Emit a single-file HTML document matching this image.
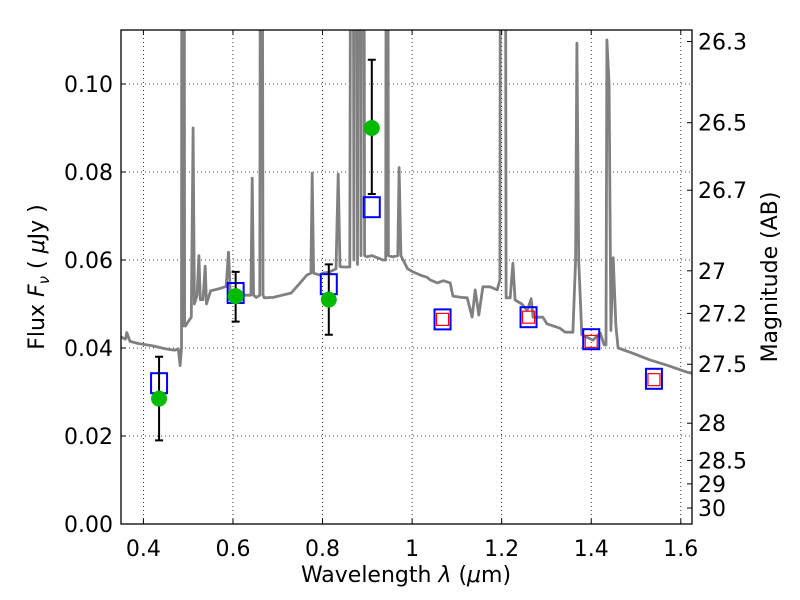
<!DOCTYPE html>
<html><head><meta charset="utf-8">
<style>
body{margin:0;background:#fff}
svg{display:block;font-family:"DejaVu Sans","Liberation Sans",sans-serif}
</style></head>
<body>
<svg id="chart" width="800" height="600" viewBox="0 0 800 600" xmlns="http://www.w3.org/2000/svg">
<defs><clipPath id="clip"><rect x="121" y="30" width="571" height="494"/></clipPath></defs>
<rect x="0" y="0" width="800" height="600" fill="#fff"/>
<g id="grid"></g>
<g id="spec" clip-path="url(#clip)"></g>
<g id="marks"></g>
<rect x="121" y="30" width="571" height="494" fill="none" stroke="#000" stroke-width="1.3"/>
<g id="axes"></g>
<text x="406" y="582" font-size="22" text-anchor="middle">Wavelength  <tspan font-style="italic">λ</tspan> (<tspan font-style="italic">μ</tspan>m)</text>
<text transform="translate(44,277) rotate(-90)" font-size="22" text-anchor="middle">Flux  <tspan font-style="italic">F</tspan><tspan font-style="italic" font-size="15" dy="5">ν</tspan><tspan dy="-5">  ( </tspan><tspan font-style="italic">μ</tspan>Jy )</text>
<text transform="translate(777,277) rotate(-90)" font-size="22" text-anchor="middle">Magnitude (AB)</text>
</svg>
<script>
const xTicks=[0.4,0.6,0.8,1.0,1.2,1.4,1.6];
const xTickLabels=["0.4","0.6","0.8","1","1.2","1.4","1.6"];
const yTicks=[0,0.02,0.04,0.06,0.08,0.10];
const yTickLabels=["0.00","0.02","0.04","0.06","0.08","0.10"];
const magTicks=[26.3,26.5,26.7,27,27.2,27.5,28,28.5,29,30];
const magTickLabels=["26.3","26.5","26.7","27","27.2","27.5","28","28.5","29","30"];
const specWave=[0.35,0.36,0.363,0.37,0.39,0.42,0.45,0.47,0.478,0.482,0.485,0.4865,0.489,0.4905,0.492,0.494,0.500,0.507,0.511,0.514,0.52,0.524,0.527,0.533,0.538,0.541,0.55,0.57,0.585,0.590,0.594,0.61,0.63,0.640,0.643,0.646,0.652,0.660,0.663,0.667,0.67,0.69,0.71,0.73,0.75,0.765,0.774,0.777,0.780,0.794,0.80,0.815,0.83,0.835,0.839,0.846,0.861,0.866,0.870,0.874,0.878,0.882,0.886,0.890,0.894,0.899,0.91,0.935,0.941,0.944,0.947,0.957,0.968,0.971,0.975,0.980,0.99,1.002,1.02,1.033,1.04,1.056,1.07,1.085,1.091,1.11,1.123,1.134,1.141,1.149,1.158,1.174,1.190,1.196,1.199,1.206,1.210,1.219,1.225,1.230,1.245,1.257,1.266,1.270,1.292,1.301,1.330,1.342,1.359,1.365,1.368,1.372,1.379,1.404,1.42,1.429,1.433,1.435,1.440,1.444,1.449,1.455,1.460,1.493,1.531,1.569,1.614,1.625];
const specFlux=[0.0425,0.042,0.0435,0.0415,0.041,0.0405,0.0398,0.0395,0.0398,0.036,0.040,0.25,0.045,0.25,0.045,0.045,0.046,0.047,0.090,0.050,0.052,0.061,0.051,0.051,0.0586,0.050,0.053,0.0535,0.054,0.0618,0.0525,0.052,0.052,0.052,0.0786,0.052,0.0515,0.052,0.3,0.052,0.0514,0.0515,0.052,0.0525,0.0548,0.0566,0.057,0.0797,0.057,0.0566,0.057,0.0572,0.058,0.0795,0.0585,0.0584,0.0584,0.3,0.060,0.3,0.059,0.3,0.061,0.3,0.061,0.0607,0.061,0.060,0.060,0.3,0.061,0.0607,0.061,0.081,0.061,0.060,0.058,0.0573,0.0565,0.0561,0.0555,0.0548,0.0553,0.0548,0.0518,0.0515,0.0514,0.047,0.0532,0.0475,0.0539,0.0539,0.0532,0.0555,0.3,0.3,0.0514,0.0514,0.0593,0.0509,0.050,0.0486,0.0512,0.047,0.047,0.0455,0.0445,0.0436,0.0436,0.06,0.1093,0.06,0.043,0.0418,0.0434,0.0407,0.0407,0.110,0.10,0.044,0.0605,0.045,0.040,0.0388,0.0373,0.0361,0.0345,0.0343];
const obsWave=[0.435,0.606,0.814,0.91];
const obsFlux=[0.0285,0.0518,0.051,0.090];
const obsLo=[0.019,0.046,0.043,0.075];
const obsHi=[0.038,0.0573,0.059,0.1055];
const modWave=[0.435,0.606,0.814,0.91,1.068,1.26,1.40,1.54];
const modFlux=[0.032,0.0525,0.0545,0.072,0.0465,0.047,0.042,0.033];
const redWave=[1.068,1.26,1.40,1.54];
const redFlux=[0.0465,0.047,0.0415,0.0328];

const X0=121,X1=692,Y0=524,Y1=30,xmin=0.35,xmax=1.625,ymin=0,ymax=0.11227;
const sx=w=>X0+(w-xmin)/(xmax-xmin)*(X1-X0);
const sy=f=>Y0-(f-ymin)/(ymax-ymin)*(Y0-Y1);
const magToFlux=m=>Math.pow(10,(23.9-m)/2.5);
const NS="http://www.w3.org/2000/svg";
function mk(tag,attrs,parent){const e=document.createElementNS(NS,tag);for(const k in attrs)e.setAttribute(k,attrs[k]);parent.appendChild(e);return e;}
const grid=document.getElementById('grid'),axes=document.getElementById('axes'),spec=document.getElementById('spec'),marks=document.getElementById('marks');
xTicks.forEach((t,i)=>{const x=sx(t);
 let g=mk('line',{x1:x,x2:x,y1:Y1,y2:Y0,stroke:'#000','stroke-width':0.8,'stroke-dasharray':'1,3'},grid);
 
 
 mk('line',{x1:x,x2:x,y1:Y0,y2:Y0-5,stroke:'#000'},axes);
 mk('line',{x1:x,x2:x,y1:Y1,y2:Y1+5,stroke:'#000'},axes);
 let tx=mk('text',{x:x,y:556,'font-size':22,'text-anchor':'middle'},axes);tx.textContent=xTickLabels[i];
 
 
});
yTicks.forEach((t,i)=>{const y=sy(t);
 let g=mk('line',{x1:X0,x2:X1,y1:y,y2:y,stroke:'#000','stroke-width':0.8,'stroke-dasharray':'1,3'},grid);
 
 
 mk('line',{x1:X0,x2:X0+5,y1:y,y2:y,stroke:'#000'},axes);
 let tx=mk('text',{x:113,y:y+8,'font-size':22,'text-anchor':'end'},axes);tx.textContent=yTickLabels[i];
 
 
});
magTicks.forEach((m,i)=>{const y=sy(magToFlux(m));
 mk('line',{x1:X1,x2:X1-5,y1:y,y2:y,stroke:'#000'},axes);
 let tx=mk('text',{x:698,y:y+8,'font-size':22},axes);tx.textContent=magTickLabels[i];
 
 
});
let d=specWave.map((w,i)=>(i?'L':'M')+sx(w).toFixed(1)+','+sy(specFlux[i]).toFixed(1)).join('');
let p=mk('path',{d:d,fill:'none',stroke:'#808080','stroke-width':2.8,'stroke-linejoin':'round'},spec);


modWave.forEach((w,i)=>{let r=mk('rect',{x:sx(w)-8,y:sy(modFlux[i])-10,width:16,height:20,fill:'none',stroke:'#0000ff','stroke-width':2},marks);
 
 });
redWave.forEach((w,i)=>{let r=mk('rect',{x:sx(w)-6,y:sy(redFlux[i])-6,width:12,height:12,fill:'none',stroke:'#ff0000','stroke-width':1.2},marks);
 
 });
obsWave.forEach((w,i)=>{const x=sx(w);
 let e=mk('path',{d:`M${x},${sy(obsLo[i])}L${x},${sy(obsHi[i])}M${x-4},${sy(obsLo[i])}L${x+4},${sy(obsLo[i])}M${x-4},${sy(obsHi[i])}L${x+4},${sy(obsHi[i])}`,stroke:'#000','stroke-width':2,fill:'none'},marks);
 
 
 let c=mk('circle',{cx:x,cy:sy(obsFlux[i]),r:8,fill:'#00bb00'},marks);
 
 
});
</script>
</body></html>
